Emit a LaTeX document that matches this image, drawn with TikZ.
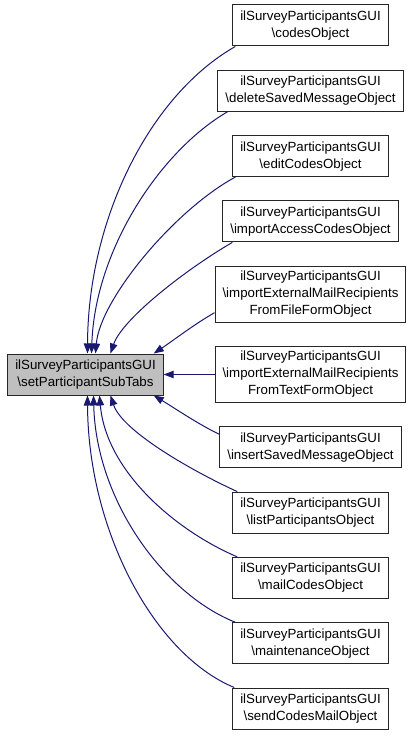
\documentclass[tikz,border=0pt]{standalone}
\usepackage{fontspec}
\setmainfont{Liberation Sans}
\usepackage{tikz}
\usetikzlibrary{arrows.meta}
\definecolor{callblue}{HTML}{191970}
\newcommand{\spgui}{ilSurveyParticipantsGUI}
\newcommand{\bsl}{\textbackslash}
\tikzset{
  fnbox/.style={draw=black!85,fill=white,line width=1bp,align=center,
    inner xsep=7.5bp,inner ysep=3.5bp,minimum height=41bp,
    font={\fontsize{13.3bp}{17bp}\selectfont}},
  tallbox/.style={fnbox,minimum height=56bp},
  mainbox/.style={fnbox,fill=black!25},
  caller/.style={draw=callblue,line width=1bp,
    -{Triangle[length=10bp,width=7.5bp]},fill=none}
}

\begin{document}
\begin{tikzpicture}[x=1bp,y=-1bp]
  \useasboundingbox (0,0) rectangle (417,736);
  % the function that is called
  \node[mainbox] (main) at (85.5,374.5) {\spgui\\\bsl setParticipantSubTabs};
  % its callers
  \node[fnbox]   (codes)    at (310.5,25.5)  {\spgui\\\bsl codesObject};
  \node[fnbox]   (delete)   at (310.5,90.8)  {\spgui\\\bsl deleteSavedMessageObject};
  \node[fnbox]   (edit)     at (310.5,156.1) {\spgui\\\bsl editCodesObject};
  \node[fnbox]   (access)   at (310.5,221.4) {\spgui\\\bsl importAccessCodesObject};
  \node[tallbox] (fromfile) at (310.5,294.2) {\spgui\\\bsl importExternalMailRecipients\\FromFileFormObject};
  \node[tallbox] (fromtext) at (310.5,374.5) {\spgui\\\bsl importExternalMailRecipients\\FromTextFormObject};
  \node[fnbox]   (insert)   at (310.5,447.3) {\spgui\\\bsl insertSavedMessageObject};
  \node[fnbox]   (list)     at (310.5,512.6) {\spgui\\\bsl listParticipantsObject};
  \node[fnbox]   (mail)     at (310.5,577.9) {\spgui\\\bsl mailCodesObject};
  \node[fnbox]   (maint)    at (310.5,643.2) {\spgui\\\bsl maintenanceObject};
  \node[fnbox]   (send)     at (310.5,708.5) {\spgui\\\bsl sendCodesMailObject};
  % calls from above
  \draw[caller] ([xshift=3bp]codes.south west) .. controls +(-86,49) and +(0.5,-134) .. ([xshift=2bp]main.north);
  \draw[caller] ([xshift=10bp]delete.south west) .. controls +(-67,39) and +(3.5,-104) .. ([xshift=6bp]main.north);
  \draw[caller] ([xshift=3bp]edit.south west) .. controls +(-61,33) and +(4.5,-54) .. ([xshift=10bp]main.north);
  \draw[caller] ([xshift=10bp]access.south west) .. controls +(-48,28) and +(11.5,-34) .. ([xshift=25bp]main.north);
  \draw[caller] ([yshift=10bp]fromfile.south west) .. controls +(-21,12) and +(21,-14) .. ([xshift=-10bp]main.north east);
  % straight across
  \draw[caller] (fromtext.west) -- (main.east);
  % calls from below
  \draw[caller] ([yshift=-8bp]insert.north west) .. controls +(-21,-10) and +(20,12) .. ([xshift=-10bp]main.south east);
  \draw[caller] ([xshift=5bp]list.north west) .. controls +(-48,-22) and +(11.5,35) .. ([xshift=25bp]main.south);
  \draw[caller] ([xshift=5bp]mail.north west) .. controls +(-63,-27) and +(6.5,75) .. ([xshift=14bp]main.south);
  \draw[caller] ([xshift=3bp]maint.north west) .. controls +(-71,-28) and +(2.5,105) .. ([xshift=8bp]main.south);
  \draw[caller] ([xshift=2bp]send.north west) .. controls +(-80,-33) and +(0.5,135) .. ([xshift=2bp]main.south);
\end{tikzpicture}
\end{document}
